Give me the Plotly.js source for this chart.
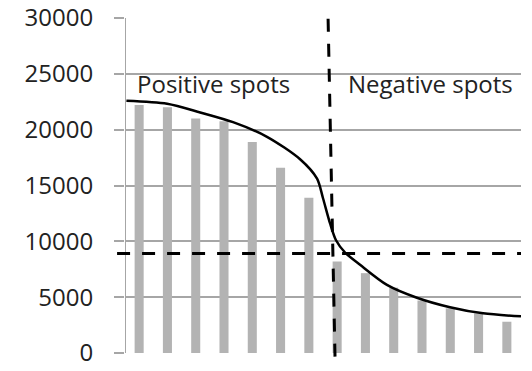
<!DOCTYPE html>
<html>
<head>
<meta charset="utf-8">
<script src="https://cdn.plot.ly/plotly-3.0.1.min.js"></script>
<style>html,body{margin:0;padding:0;background:#fff;}#chart{width:532px;height:371px;}</style>
</head>
<body>
<div id="chart"></div>
<script>
// Spot index (sorted by intensity)
const spots = [1, 2, 3, 4, 5, 6, 7, 8, 9, 10, 11, 12, 13, 14];
// Bar values (spot intensity)
const intensity = [22200, 22000, 21000, 20750, 18900, 16600, 13900, 8200, 7150, 5850, 4700, 4000, 3550, 2800];
// Fitted curve
const curveX = [0.55, 1.99, 3.16, 4.32, 5.52, 6.69, 7.29, 7.50, 7.75, 7.96, 8.28, 8.81, 9.76, 10.82, 11.99, 13.16, 14.5];
const curveY = [22590, 22320, 21540, 20670, 19360, 17350, 15610, 13860, 11600, 10100, 9000, 7900, 6100, 4950, 4100, 3550, 3280];
// Threshold and split
const threshold = 8900;
const splitTop = 7.68, splitBottom = 7.93;
const yTicks = [0, 5000, 10000, 15000, 20000, 25000, 30000];
const labels = ["Positive spots", "Negative spots"];
const labelX = [0.86, 8.3];
const labelY = 24100;

const font = "Open Sans, sans-serif";

const traces = [
  {
    type: "bar", x: spots, y: intensity, width: 0.32,
    marker: {color: "#b3b3b3", line: {width: 0}},
    hoverinfo: "skip"
  },
  {
    type: "scatter", mode: "lines", x: curveX, y: curveY,
    line: {color: "#000", width: 2.5, shape: "spline", smoothing: 0.8},
    hoverinfo: "skip"
  }
];

const layout = {
  width: 532, height: 371,
  margin: {l: 125, r: 11, t: 17, b: 17},
  paper_bgcolor: "#fff", plot_bgcolor: "#fff",
  showlegend: false,
  font: {family: font, color: "#222", size: 24},
  xaxis: {
    range: [0.5, 14.5], showticklabels: false, showgrid: false, zeroline: false,
    showline: false, ticks: ""
  },
  yaxis: {
    range: [-90, 30090], tickvals: yTicks, ticktext: yTicks.map(String),
    showgrid: true, gridcolor: "#a6a6a6", gridwidth: 2,
    zeroline: false, showline: false,
    ticks: "outside", ticklen: 10, tickwidth: 2, tickcolor: "#a6a6a6",
    ticklabelstandoff: 16, ticklabeloverflow: "allow",
    tickfont: {family: font, size: 24, color: "#222"}
  },
  shapes: [
    {type: "line", xref: "x", yref: "y", x0: 0.5, x1: 0.5, y0: 0, y1: 30000,
     line: {color: "#a6a6a6", width: 2}, layer: "below"},
    {type: "line", xref: "paper", yref: "y", x0: -0.02, x1: 1, y0: threshold, y1: threshold,
     line: {color: "#000", width: 3, dash: "13px,12px"}, layer: "above"},
    {type: "line", xref: "x", yref: "paper", x0: splitTop, x1: splitBottom, y0: 0.995, y1: -0.03,
     line: {color: "#000", width: 3, dash: "13px,12px"}, layer: "above"}
  ],
  annotations: labels.map((t, i) => ({
    text: t, x: labelX[i], y: labelY, xref: "x", yref: "y",
    xanchor: "left", yanchor: "middle", showarrow: false,
    font: {family: font, size: 24, color: "#222"}
  }))
};

Plotly.newPlot("chart", traces, layout, {staticPlot: true, displayModeBar: false});
</script>
</body>
</html>
